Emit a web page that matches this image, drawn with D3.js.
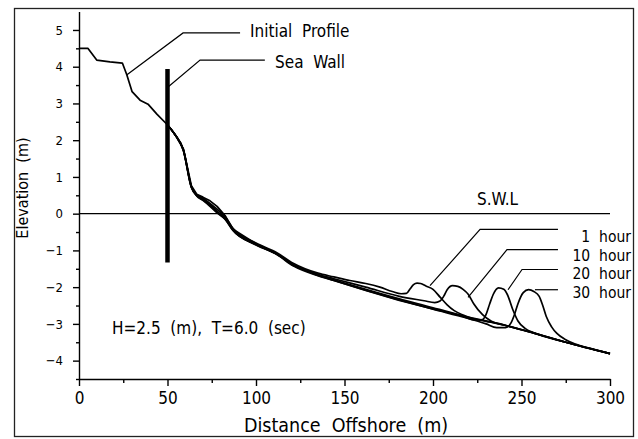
<!DOCTYPE html>
<html>
<head>
<meta charset="utf-8">
<script src="https://cdn.jsdelivr.net/npm/d3@7"></script>
<style>
    body { margin: 0; background: #fff; }
    svg { display: block; }
    text { font-family: "DejaVu Sans Condensed", "DejaVu Sans", sans-serif; fill: #000; white-space: pre; }
</style>
</head>
<body>
<div class="chartdiv"></div>
<script>
// ---- data (x = distance offshore m, y = elevation m) ----
var initialProfile = [[0, 4.5], [5, 4.5], [10, 4.18], [17.5, 4.13], [24.5, 4.1], [27, 3.78], [30, 3.32],
    [34.5, 3.09], [39, 2.98], [44, 2.71], [49.5, 2.44], [54, 2.17], [59, 1.76], [63.5, 0.76], [66.5, 0.53],
    [70, 0.45], [74, 0.35], [78, 0.2], [82.5, -0.05], [87, -0.42], [100, -0.82], [112, -1.1], [121, -1.41],
    [135, -1.68], [144, -1.82], [162, -2.09], [181, -2.36], [200, -2.59], [219, -2.81], [238, -3.0],
    [257, -3.25], [275, -3.5], [300, -3.81]]

var hour1 = [[49.5, 2.44], [54, 2.17], [59, 1.74], [63.5, 0.74], [66.5, 0.52], [70, 0.42], [74, 0.28],
    [78, 0.12], [82.5, -0.08], [87, -0.4], [100, -0.8], [112, -1.07], [121, -1.35], [135, -1.62], [144, -1.72],
    [153, -1.82], [162, -1.9], [170, -2.0], [177, -2.12], [182, -2.18], [185, -2.17], [187, -2.05],
    [189, -1.93], [191, -1.89], [193, -1.9], [196, -1.97], [200, -2.06], [204, -2.27], [208, -2.48],
    [212, -2.64], [217, -2.76], [222, -2.85], [230, -2.93], [238, -3.01], [257, -3.25], [275, -3.5], [300, -3.81]]

var hour10 = [[49.5, 2.44], [54, 2.17], [59, 1.73], [63.5, 0.73], [66.5, 0.5], [70, 0.4], [74, 0.25],
    [78, 0.06], [82.5, -0.12], [87, -0.44], [100, -0.84], [112, -1.1], [121, -1.38], [135, -1.65],
    [144, -1.77], [162, -2.0], [181, -2.25], [195, -2.37], [201, -2.42], [204, -2.38], [206, -2.25],
    [208, -2.07], [211, -1.96], [214, -1.98], [217, -2.06], [220, -2.2], [223, -2.45], [228, -2.75],
    [233, -2.93], [240, -3.03], [257, -3.25], [275, -3.5], [300, -3.81]]

var hour20 = [[49.5, 2.44], [54, 2.17], [59, 1.72], [63.5, 0.72], [66.5, 0.49], [70, 0.38], [74, 0.22],
    [78, 0.04], [82.5, -0.14], [87, -0.45], [100, -0.84], [112, -1.11], [121, -1.4], [135, -1.67],
    [144, -1.8], [162, -2.06], [181, -2.32], [200, -2.56], [215, -2.76], [224, -2.9], [228, -2.88],
    [230, -2.74], [232, -2.46], [234, -2.2], [237, -2.02], [240, -2.06], [242, -2.2], [245, -2.6],
    [248, -2.92], [252, -3.12], [257, -3.24], [275, -3.5], [300, -3.81]]

var hour30 = [[49.5, 2.44], [54, 2.17], [59, 1.71], [63.5, 0.71], [66.5, 0.48], [70, 0.36], [74, 0.2],
    [78, 0.02], [82.5, -0.15], [87, -0.46], [100, -0.85], [112, -1.12], [121, -1.42], [135, -1.69],
    [144, -1.82], [162, -2.08], [181, -2.35], [200, -2.6], [219, -2.84], [230, -3.0], [236, -3.1],
    [241, -3.1], [244, -2.98], [246, -2.75], [248, -2.45], [251, -2.15], [254, -2.07], [257, -2.12],
    [260, -2.25], [262, -2.5], [264, -2.8], [267, -3.08], [270, -3.26], [275, -3.43], [280, -3.54],
    [290, -3.68], [300, -3.81]]

var seaWall = {x: 50, top: 3.94, bottom: -1.33}
var swl = 0

var xTicks = [0, 50, 100, 150, 200, 250, 300]
var xMinor = [25, 75, 125, 175, 225, 275]
var yTicks = [-4, -3, -2, -1, 0, 1, 2, 3, 4, 5]
var yMinor = [-4.5, -3.5, -2.5, -1.5, -0.5, 0.5, 1.5, 2.5, 3.5, 4.5]

var hourLabels = ['1  hour', '10  hour', '20  hour', '30  hour']
// leader lines, data units: from the curve to the label
var hourLeaders = [
    [[198.3, -1.96], [226.6, -0.43], [270.6, -0.43]],
    [[219.8, -2.28], [241.8, -0.98], [270.6, -0.98]],
    [[242.4, -2.07], [250.3, -1.52], [270.6, -1.52]],
    [[257.6, -2.07], [270.6, -2.07]]
]
var profileLeader = [[27.1, 3.78], [58.8, 4.92], [91, 4.92]]
var wallLeader = [[50.3, 3.45], [68.4, 4.18], [105, 4.18]]

// ---- chart ----
var w = 638, h = 439
var svg = d3.select('.chartdiv').append('svg')
    .attr('width', w)
    .attr('height', h)

// outer frame of the figure
svg.append('rect')
    .attr('x', 14.5).attr('y', 8.5)
    .attr('width', 619).attr('height', 428)
    .attr('fill', 'none')
    .attr('stroke', '#222')
    .attr('stroke-width', 1.3)

var xScale = d3.scaleLinear().domain([0, 300]).range([79, 610])
var yScale = d3.scaleLinear().domain([-4.5, 5.5]).range([379, 11.6])

var line = d3.line()
    .x(d => xScale(d[0]))
    .y(d => yScale(d[1]))

// axes
var gx = svg.append('g')
    .attr('transform', 'translate(0,379)')
    .call(d3.axisBottom(xScale).tickValues(xTicks).tickSize(7).tickSizeOuter(0).tickPadding(6))
gx.selectAll('text').style('font-size', '17px')
svg.append('g')
    .attr('transform', 'translate(0,379)')
    .call(d3.axisBottom(xScale).tickValues(xMinor).tickSize(4).tickFormat(''))
    .select('.domain').remove()

var gy = svg.append('g')
    .attr('transform', 'translate(79,0)')
    .call(d3.axisLeft(yScale).tickValues(yTicks).tickSize(6).tickSizeOuter(0).tickPadding(10))
gy.selectAll('text').style('font-size', '13px')
svg.append('g')
    .attr('transform', 'translate(79,0)')
    .call(d3.axisLeft(yScale).tickValues(yMinor).tickSize(3).tickFormat(''))
    .select('.domain').remove()

svg.selectAll('.domain, .tick line').attr('stroke', '#000').attr('stroke-width', 1.4)

// still water level
svg.append('line')
    .attr('x1', xScale(0)).attr('x2', xScale(300))
    .attr('y1', yScale(swl)).attr('y2', yScale(swl))
    .attr('stroke', '#000').attr('stroke-width', 1.2)

// profiles
var profiles = [initialProfile, hour1, hour10, hour20, hour30]
svg.append('g').selectAll('path')
    .data(profiles)
    .enter()
    .append('path')
    .attr('d', (d, i) => i == 0 ? line.curve(d3.curveLinear)(d) : line.curve(d3.curveMonotoneX)(d))
    .attr('fill', 'none')
    .attr('stroke', '#000')
    .attr('stroke-width', 1.7)
    .attr('stroke-linejoin', 'round')

// sea wall
svg.append('line')
    .attr('x1', xScale(seaWall.x)).attr('x2', xScale(seaWall.x))
    .attr('y1', yScale(seaWall.top)).attr('y2', yScale(seaWall.bottom))
    .attr('stroke', '#000').attr('stroke-width', 4.5)

// leader lines
line.curve(d3.curveLinear)
var leaders = [profileLeader, wallLeader].concat(hourLeaders)
svg.append('g').selectAll('path')
    .data(leaders)
    .enter()
    .append('path')
    .attr('d', d => line(d))
    .attr('fill', 'none')
    .attr('stroke', '#000')
    .attr('stroke-width', 1.2)

// labels
function label(txt, x, y, size, anchor) {
    return svg.append('text')
        .attr('x', x).attr('y', y)
        .attr('text-anchor', anchor || 'start')
        .style('font-size', size + 'px')
        .text(txt)
}
label('Initial  Profile', 250, 37, 17)
label('Sea  Wall', 275, 68, 17)
label('S.W.L', 477, 205, 17)
label('H=2.5  (m),  T=6.0  (sec)', 112, 334, 17)
hourLabels.forEach((t, i) => label(t, 631, [242, 260.5, 279, 297.5][i], 15.5, 'end'))
label('Distance  Offshore  (m)', 346, 432, 19.5, 'middle')

svg.append('text')
    .attr('transform', 'translate(28,188) rotate(-90)')
    .attr('text-anchor', 'middle')
    .style('font-size', '16px')
    .text('Elevation  (m)')
</script>
</body>
</html>
